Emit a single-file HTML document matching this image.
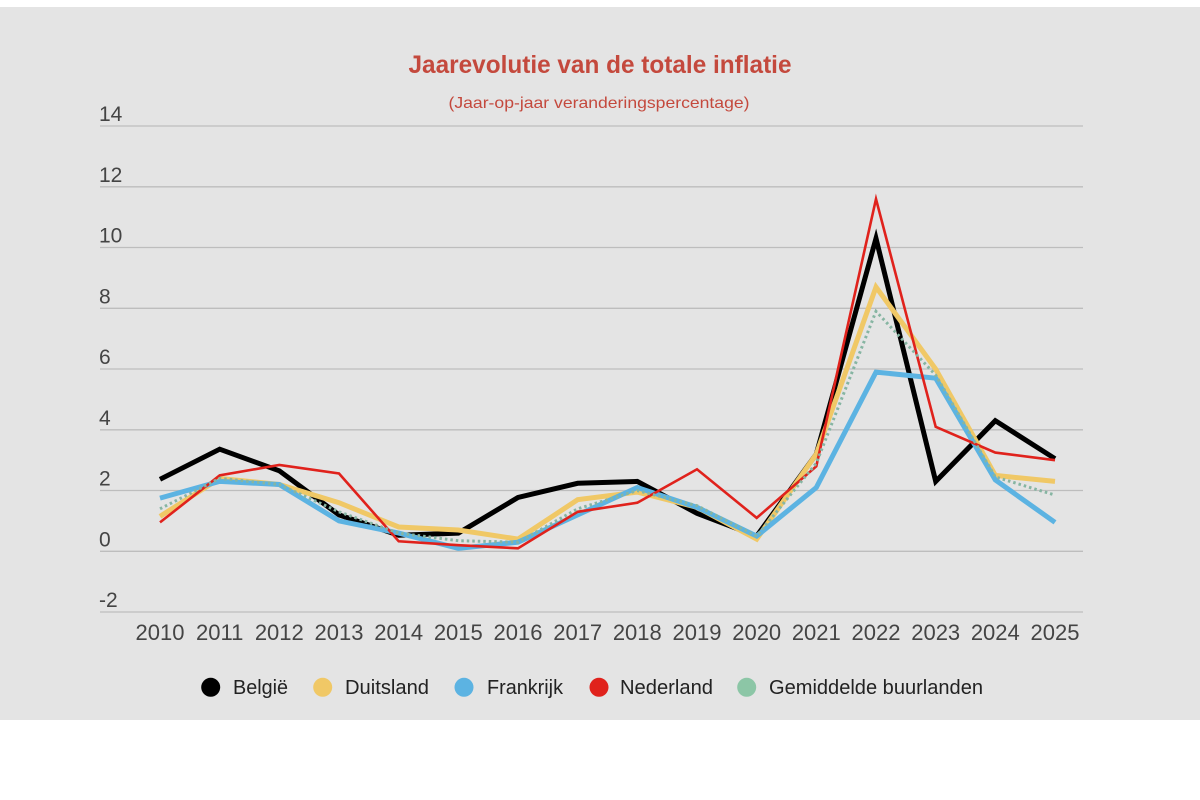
<!DOCTYPE html>
<html>
<head>
<meta charset="utf-8">
<style>
  html,body{margin:0;padding:0;background:#ffffff;}
  body{width:1200px;height:800px;overflow:hidden;}
  svg{display:block;}
  text{font-family:"Liberation Sans", Arial, sans-serif;}
</style>
</head>
<body>
<svg width="1200" height="800" viewBox="0 0 1200 800" xmlns="http://www.w3.org/2000/svg">
  <rect x="0" y="0" width="1200" height="800" fill="#ffffff"/>
  <rect x="0" y="7" width="1200" height="713" fill="#e4e4e4"/>

  <!-- Title -->
  <text x="600" y="73" text-anchor="middle" font-size="25" font-weight="bold" fill="#c4493d" textLength="383" lengthAdjust="spacingAndGlyphs">Jaarevolutie van de totale inflatie</text>
  <text x="599" y="108" text-anchor="middle" font-size="16" fill="#c4493d" textLength="301" lengthAdjust="spacingAndGlyphs">(Jaar-op-jaar veranderingspercentage)</text>

  <!-- Gridlines -->
  <g stroke="#bdbdbd" stroke-width="1.3">
    <line x1="100" y1="126" x2="1083" y2="126"/>
    <line x1="100" y1="186.8" x2="1083" y2="186.8"/>
    <line x1="100" y1="247.5" x2="1083" y2="247.5"/>
    <line x1="100" y1="308.3" x2="1083" y2="308.3"/>
    <line x1="100" y1="369" x2="1083" y2="369"/>
    <line x1="100" y1="429.8" x2="1083" y2="429.8"/>
    <line x1="100" y1="490.5" x2="1083" y2="490.5"/>
    <line x1="100" y1="551.3" x2="1083" y2="551.3"/>
    <line x1="100" y1="612" x2="1083" y2="612"/>
  </g>

  <!-- Y labels -->
  <g font-size="21" fill="#444444">
    <text x="99" y="121">14</text>
    <text x="99" y="182">12</text>
    <text x="99" y="242.5">10</text>
    <text x="99" y="303.3">8</text>
    <text x="99" y="364">6</text>
    <text x="99" y="424.8">4</text>
    <text x="99" y="485.5">2</text>
    <text x="99" y="546.3">0</text>
    <text x="99" y="607">-2</text>
  </g>

  <!-- X labels -->
  <g font-size="22" fill="#444444" text-anchor="middle">
    <text x="160" y="640">2010</text>
    <text x="219.7" y="640">2011</text>
    <text x="279.3" y="640">2012</text>
    <text x="339" y="640">2013</text>
    <text x="398.7" y="640">2014</text>
    <text x="458.3" y="640">2015</text>
    <text x="518" y="640">2016</text>
    <text x="577.7" y="640">2017</text>
    <text x="637.3" y="640">2018</text>
    <text x="697" y="640">2019</text>
    <text x="756.7" y="640">2020</text>
    <text x="816.3" y="640">2021</text>
    <text x="876" y="640">2022</text>
    <text x="935.7" y="640">2023</text>
    <text x="995.3" y="640">2024</text>
    <text x="1055" y="640">2025</text>
  </g>

  <!-- Series -->
  <g fill="none" stroke-linejoin="miter" stroke-miterlimit="10">
    <!-- België -->
    <polyline stroke="#000000" stroke-width="5" points="160,479.3 219.7,449.2 279.3,470.8 339,514.9 398.7,535.2 458.3,533.1 518,497.5 577.7,483.3 637.3,481.4 697,513.3 756.7,536.1 816.3,454.1 876,238.4 935.7,481.4 995.3,420.7 1055,458.7"/>
    <!-- Duitsland -->
    <polyline stroke="#f0c866" stroke-width="5" points="160,516.4 219.7,478.4 279.3,484.5 339,502.7 398.7,527 458.3,530 518,539.1 577.7,499.7 637.3,492.1 697,507.3 756.7,539.1 816.3,454.1 876,287 935.7,369.1 995.3,475.4 1055,481.4"/>
    <!-- Frankrijk -->
    <polyline stroke="#5cb3e2" stroke-width="5" points="160,498.1 219.7,481.4 279.3,484.5 339,520.9 398.7,533.1 458.3,548.3 518,542.2 577.7,514.9 637.3,487.5 697,507.3 756.7,536.1 816.3,487.5 876,372.1 935.7,378.2 995.3,479.9 1055,522.4"/>
    <!-- Nederland -->
    <polyline stroke="#e0221c" stroke-width="2.6" points="160,522.4 219.7,475.4 279.3,465 339,473.5 398.7,541.3 458.3,545.2 518,548.3 577.7,511.8 637.3,502.7 697,469.3 756.7,517.9 816.3,466.3 876,199 935.7,426.8 995.3,452.6 1055,460.2"/>
    <!-- Gemiddelde buurlanden -->
    <polyline stroke="#86b5a2" stroke-width="3" stroke-dasharray="2.5 3" points="160,508.8 219.7,478.4 279.3,484.5 339,511.8 398.7,533.1 458.3,540.7 518,542.2 577.7,508.8 637.3,490.6 697,505.7 756.7,536.1 816.3,463.2 876,311.3 935.7,375.1 995.3,476.9 1055,495.1"/>
  </g>

  <!-- Legend -->
  <g font-size="20" fill="#222222">
    <circle cx="210.7" cy="687.3" r="9.5" fill="#000000"/>
    <text x="233" y="694" textLength="55" lengthAdjust="spacingAndGlyphs">België</text>
    <circle cx="322.7" cy="687.3" r="9.5" fill="#f0c866"/>
    <text x="345" y="694" textLength="84" lengthAdjust="spacingAndGlyphs">Duitsland</text>
    <circle cx="464" cy="687.3" r="9.5" fill="#5cb3e2"/>
    <text x="487" y="694" textLength="76" lengthAdjust="spacingAndGlyphs">Frankrijk</text>
    <circle cx="599" cy="687.3" r="9.5" fill="#e0221c"/>
    <text x="620" y="694" textLength="93" lengthAdjust="spacingAndGlyphs">Nederland</text>
    <circle cx="746.7" cy="687.3" r="9.5" fill="#8cc6a6"/>
    <text x="769" y="694" textLength="214" lengthAdjust="spacingAndGlyphs">Gemiddelde buurlanden</text>
  </g>
</svg>
</body>
</html>
